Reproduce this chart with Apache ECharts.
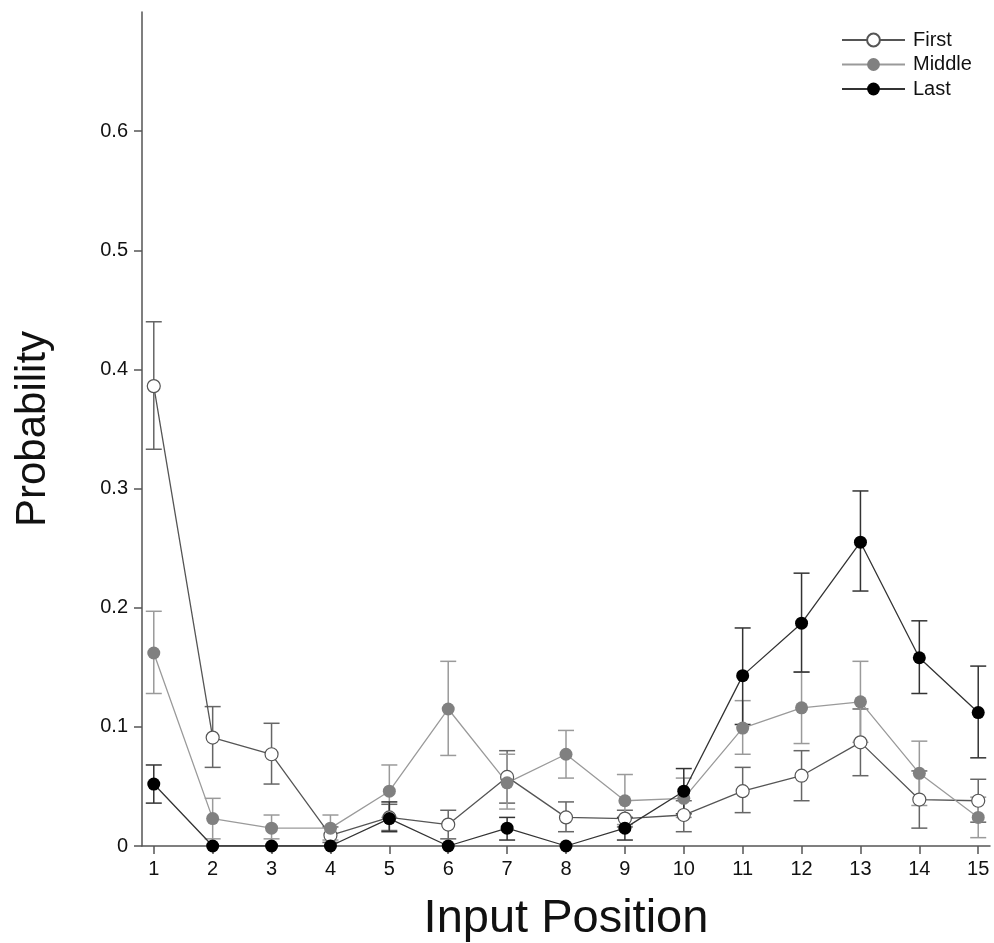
<!DOCTYPE html>
<html>
<head>
<meta charset="utf-8">
<script src="https://cdn.jsdelivr.net/npm/echarts@6/dist/echarts.min.js"></script>
<style>html,body{margin:0;padding:0;background:#fff}#c{width:994px;height:943px}</style>
</head>
<body>
<div id="c"></div>
<script>
const positions = [1,2,3,4,5,6,7,8,9,10,11,12,13,14,15];
const yTicks = [0,0.1,0.2,0.3,0.4,0.5,0.6];

const firstMean  = [0.386,0.091,0.077,0.009,0.024,0.018,0.058,0.024,0.023,0.026,0.046,0.059,0.087,0.039,0.038];
const firstLow   = [0.333,0.066,0.052,0.003,0.013,0.006,0.036,0.012,0.016,0.012,0.028,0.038,0.059,0.015,0.020];
const firstHigh  = [0.440,0.117,0.103,0.016,0.035,0.030,0.080,0.037,0.030,0.038,0.066,0.080,0.115,0.063,0.056];

const middleMean = [0.162,0.023,0.015,0.015,0.046,0.115,0.053,0.077,0.038,0.040,0.099,0.116,0.121,0.061,0.024];
const middleLow  = [0.128,0.006,0.006,0.005,0.024,0.076,0.031,0.057,0.018,0.024,0.077,0.086,0.087,0.034,0.007];
const middleHigh = [0.197,0.040,0.026,0.026,0.068,0.155,0.077,0.097,0.060,0.057,0.122,0.146,0.155,0.088,0.041];

const lastMean   = [0.052,0,0,0,0.023,0,0.015,0,0.015,0.046,0.143,0.187,0.255,0.158,0.112];
const lastLow    = [0.036,0,0,0,0.012,0,0.005,0,0.005,0.027,0.102,0.146,0.214,0.128,0.074];
const lastHigh   = [0.068,0,0,0,0.037,0,0.024,0,0.024,0.065,0.183,0.229,0.298,0.189,0.151];

const FONT = '"Liberation Sans", Arial, sans-serif';

function pts(mean){ return positions.map((p,i)=>[p, mean[i]]); }
function errData(low, high){ return positions.map((p,i)=>[p, low[i], high[i]]); }
function errSeries(name, low, high, color){
  return {
    name: name, type: 'custom', z: 1, silent: true,
    data: errData(low, high),
    renderItem: function(params, api){
      const x = api.value(0), lo = api.value(1), hi = api.value(2);
      if (hi - lo <= 0) return null;
      const pHi = api.coord([x, hi]), pLo = api.coord([x, lo]);
      const hw = 8;
      const st = {stroke: color, lineWidth: 1.5};
      return {type:'group', children:[
        {type:'line', shape:{x1:pHi[0], y1:pHi[1], x2:pLo[0], y2:pLo[1]}, style: st},
        {type:'line', shape:{x1:pHi[0]-hw, y1:pHi[1], x2:pHi[0]+hw, y2:pHi[1]}, style: st},
        {type:'line', shape:{x1:pLo[0]-hw, y1:pLo[1], x2:pLo[0]+hw, y2:pLo[1]}, style: st}
      ]};
    }
  };
}

const chart = echarts.init(document.getElementById('c'));
chart.setOption({
  animation: false,
  backgroundColor: '#fff',
  grid: {left: 142, right: 4, top: 12, bottom: 97, outerBoundsMode: 'none', containLabel: false},
  legend: {
    data: ['First','Middle','Last'],
    orient: 'vertical', left: 836, top: 25, itemGap: 4.5, padding: 5,
    itemWidth: 63, itemHeight: 16,
    textStyle: {fontFamily: FONT, fontSize: 20, color: '#111', padding: [0,0,0,3]}
  },
  xAxis: {
    type: 'value', min: 0.8, max: 15.2,
    name: 'Input Position', nameLocation: 'middle', nameGap: 50,
    nameTextStyle: {fontFamily: FONT, fontSize: 47, color: '#111'},
    axisLine: {show: true, lineStyle: {color: '#555', width: 1.5}},
    axisTick: {show: true, length: 8, customValues: positions, lineStyle: {color: '#555', width: 1.5}},
    axisLabel: {customValues: positions, margin: 13, fontFamily: FONT, fontSize: 20, color: '#111'},
    splitLine: {show: false}
  },
  yAxis: {
    type: 'value', min: 0, max: 0.7,
    name: 'Probability', nameLocation: 'middle', nameGap: 88,
    nameTextStyle: {fontFamily: FONT, fontSize: 42, color: '#111'},
    axisLine: {show: true, lineStyle: {color: '#555', width: 1.5}},
    axisTick: {show: true, length: 8, customValues: yTicks, lineStyle: {color: '#555', width: 1.5}},
    axisLabel: {customValues: yTicks, margin: 14, fontFamily: FONT, fontSize: 20, color: '#111',
      formatter: v => v === 0 ? '0' : v.toFixed(1)},
    splitLine: {show: false}
  },
  series: [
    errSeries('First err', firstLow, firstHigh, '#666'),
    errSeries('Middle err', middleLow, middleHigh, '#9a9a9a'),
    errSeries('Last err', lastLow, lastHigh, '#333'),
    {name: 'First', type: 'line', z: 2, data: pts(firstMean), symbol: 'circle', symbolSize: 13,
     lineStyle: {color: '#555', width: 1.3},
     itemStyle: {color: '#fff', borderColor: '#555', borderWidth: 1.2}},
    {name: 'Middle', type: 'line', z: 2, data: pts(middleMean), symbol: 'circle', symbolSize: 13,
     lineStyle: {color: '#9a9a9a', width: 1.3},
     itemStyle: {color: '#808080', borderColor: '#808080', borderWidth: 0}},
    {name: 'Last', type: 'line', z: 2, data: pts(lastMean), symbol: 'circle', symbolSize: 13,
     lineStyle: {color: '#333', width: 1.3},
     itemStyle: {color: '#000', borderColor: '#000', borderWidth: 0}}
  ]
});
</script>
</body>
</html>
